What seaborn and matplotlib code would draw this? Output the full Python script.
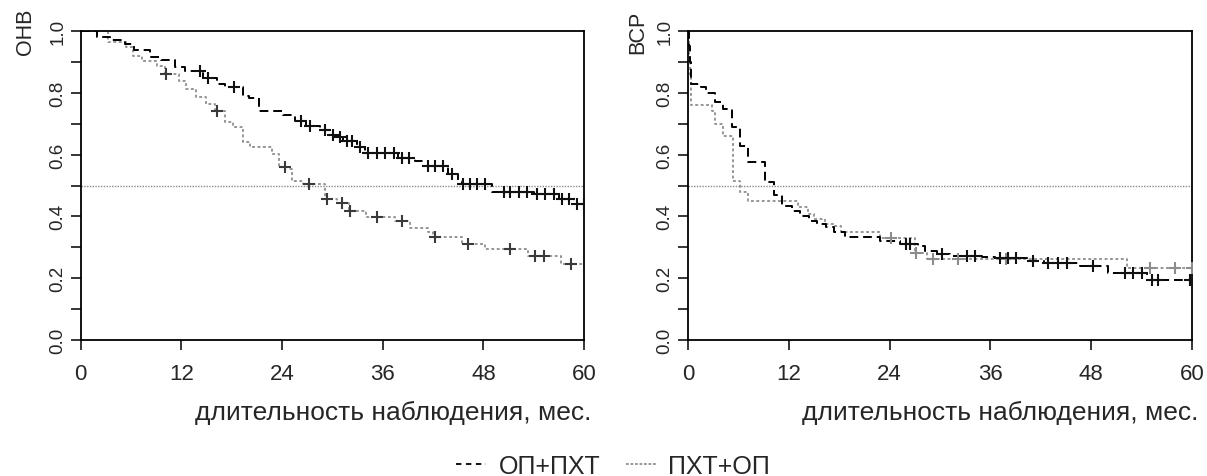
import numpy as np
import pandas as pd
import matplotlib
matplotlib.use("Agg")
import matplotlib.pyplot as plt
from matplotlib.lines import Line2D
from matplotlib.ticker import MultipleLocator
import seaborn as sns

# ---------------- data ----------------
groups = ["ОП+ПХТ", "ПХТ+ОП"]
xticks = [0, 12, 24, 36, 48, 60]
yticks = [0.0, 0.2, 0.4, 0.6, 0.8, 1.0]
xlabel = "длительность наблюдения, мес."
ylabels = ["ОНВ", "ВСР"]

# Left panel (ОНВ)
onv_a_t = [0, 1.9, 3.5, 5.3, 6.3, 8.3, 9.6, 11.2, 12.4, 14.6, 16.2, 17.2, 19.4, 20.0, 21.3, 24.1,
           25.6, 26.8, 28.5, 29.7, 30.5, 31.3, 32.9, 33.9, 37.8, 39.8, 40.8, 43.8, 45.0, 45.4,
           49.0, 54.0, 57.0, 58.8, 60]
onv_a_s = [1.0, 0.98, 0.972, 0.958, 0.94, 0.915, 0.906, 0.883, 0.871, 0.848, 0.828, 0.818, 0.79,
           0.783, 0.742, 0.728, 0.71, 0.694, 0.678, 0.665, 0.656, 0.645, 0.624, 0.605, 0.588,
           0.58, 0.564, 0.537, 0.516, 0.505, 0.48, 0.472, 0.456, 0.44, 0.44]
onv_a_cens = [14.2, 15.2, 18.3, 26.3, 27.3, 29.1, 30.1, 30.9, 31.7, 32.3, 33.3, 34.3, 35.3, 36.3,
              37.3, 38.3, 39.1, 41.4, 42.2, 43.2, 44.2, 45.6, 46.4, 47.2, 48.2, 50.4, 51.2, 52.2,
              53.2, 54.4, 55.4, 56.4, 57.4, 58.2, 59.2, 60.0]

onv_b_t = [0, 3.3, 5.4, 6.2, 7.3, 9.1, 10.0, 11.7, 12.5, 13.7, 14.9, 16.0, 17.2, 18.2, 19.3, 20.2,
           22.8, 23.6, 24.8, 25.2, 26.5, 29.1, 30.5, 32.0, 34.0, 37.5, 39.3, 41.4, 42.0, 45.5,
           48.2, 53.3, 57.3, 60]
onv_b_s = [1.0, 0.963, 0.947, 0.92, 0.904, 0.888, 0.861, 0.839, 0.812, 0.785, 0.763, 0.742,
           0.704, 0.688, 0.64, 0.624, 0.602, 0.559, 0.553, 0.516, 0.505, 0.456, 0.443, 0.418,
           0.397, 0.386, 0.364, 0.348, 0.332, 0.311, 0.294, 0.273, 0.246, 0.246]
onv_b_cens = [10.2, 16.2, 24.4, 27.2, 29.4, 31.1, 32.1, 35.3, 38.3, 42.2, 46.2, 51.2, 54.2, 55.2, 58.4]

# Right panel (ВСР)
vsr_a_t = [0, 0.1, 0.2, 0.3, 1.6, 2.2, 3.2, 4.2, 5.2, 6.2, 7.2, 9.2, 10.2, 11.2, 12.4, 13.3, 14.4,
           15.4, 16.4, 17.4, 18.7, 22.9, 25.2, 27.4, 28.2, 29.6, 31.2, 35.0, 36.6, 40.3, 42.4,
           46.7, 50.0, 54.6, 60]
vsr_a_s = [1.0, 0.95, 0.9, 0.828, 0.818, 0.80, 0.77, 0.748, 0.688, 0.629, 0.575, 0.51, 0.47,
           0.435, 0.418, 0.402, 0.386, 0.375, 0.365, 0.348, 0.332, 0.321, 0.311, 0.303, 0.289,
           0.278, 0.273, 0.27, 0.267, 0.257, 0.248, 0.238, 0.217, 0.194, 0.194]
vsr_a_cens = [26.0, 26.4, 30.2, 33.2, 34.2, 37.1, 38.1, 39.1, 41.1, 42.9, 44.1, 45.1, 48.2, 52.0,
              53.0, 54.0, 55.2, 56.0, 59.7]

vsr_b_t = [0, 0.1, 0.2, 0.3, 2.9, 3.2, 4.2, 5.3, 6.2, 7.2, 13.1, 14.3, 15.0, 16.3, 17.5, 18.2,
           22.9, 27.0, 28.4, 52.2, 60]
vsr_b_s = [1.0, 0.92, 0.85, 0.76, 0.74, 0.699, 0.661, 0.516, 0.478, 0.451, 0.43, 0.408, 0.392,
           0.375, 0.37, 0.35, 0.329, 0.281, 0.262, 0.232, 0.232]
vsr_b_cens = [24.2, 27.2, 29.2, 32.2, 37.9, 55.0, 58.0, 60.0]


def curve_df(t, s, group):
    return pd.DataFrame({"t": t, "S": s, "group": group})


def cens_df(ct, t, s, group):
    t = np.asarray(t)
    s = np.asarray(s)
    idx = np.searchsorted(t, ct, side="right") - 1
    return pd.DataFrame({"t": ct, "S": s[idx], "group": group})


panels = [
    (curve_df(onv_a_t, onv_a_s, groups[0]), curve_df(onv_b_t, onv_b_s, groups[1]),
     cens_df(onv_a_cens, onv_a_t, onv_a_s, groups[0]), cens_df(onv_b_cens, onv_b_t, onv_b_s, groups[1]),
     "#3a3a3a"),
    (curve_df(vsr_a_t, vsr_a_s, groups[0]), curve_df(vsr_b_t, vsr_b_s, groups[1]),
     cens_df(vsr_a_cens, vsr_a_t, vsr_a_s, groups[0]), cens_df(vsr_b_cens, vsr_b_t, vsr_b_s, groups[1]),
     "#8c8c8c"),
]

# ---------------- style ----------------
sns.set_style("white")
plt.rcParams["font.family"] = ["Liberation Sans", "DejaVu Sans"]
plt.rcParams["font.size"] = 14

black = "#000000"
gray = "#8f8f8f"
palette = {groups[0]: black, groups[1]: gray}
dash_map = {groups[0]: (4.5, 2.5), groups[1]: (1.6, 1.4)}

fig = plt.figure(figsize=(12.07, 4.77), dpi=100)
ax_pos = [[0.0669, 0.285, 0.417, 0.648], [0.570, 0.285, 0.4176, 0.648]]

for i, (ca, cb, cea, ceb, b_mark_col) in enumerate(panels):
    ax = fig.add_axes(ax_pos[i])
    curves = pd.concat([ca, cb], ignore_index=True)
    ax.axhline(0.5, color="#8a8a8a", lw=1.0, ls=(0, (1, 1)), zorder=1)
    for g, lw in [(groups[1], 1.3), (groups[0], 1.4)]:
        sub = curves[curves["group"] == g]
        sns.lineplot(data=sub, x="t", y="S", color=palette[g], estimator=None, sort=False,
                     drawstyle="steps-post", lw=lw, dashes=False, legend=False, ax=ax)
        ax.lines[-1].set_dashes(dash_map[g])
    sns.scatterplot(data=ceb, x="t", y="S", marker="+", s=85, color=b_mark_col,
                    linewidth=1.5, legend=False, ax=ax, zorder=4)
    sns.scatterplot(data=cea, x="t", y="S", marker="+", s=85, color="#111111",
                    linewidth=1.5, legend=False, ax=ax, zorder=5)

    ax.set_xlim(0, 60)
    ax.set_ylim(0, 1)
    ax.set_xticks(xticks)
    ax.set_xticklabels([str(v) for v in xticks])
    ax.set_yticks(yticks)
    ax.set_yticklabels([f"{v:.1f}" for v in yticks], rotation=90, va="center")
    ax.yaxis.set_minor_locator(MultipleLocator(0.1))
    ax.tick_params(axis="both", which="both", direction="out", length=7.5, width=1.1,
                   color="black", left=True, bottom=True)
    ax.tick_params(axis="x", pad=9, labelsize=16)
    ax.tick_params(axis="y", pad=3, labelsize=13.5)
    for sp in ax.spines.values():
        sp.set_visible(True)
        sp.set_color("black")
        sp.set_linewidth(1.3)
    ax.set_xlabel(xlabel, fontsize=19, va="center")
    ax.xaxis.set_label_coords(0.62, -0.233)
    ax.set_ylabel(ylabels[i], fontsize=15.5)
    ax.yaxis.set_label_coords(-0.11 if i == 0 else -0.10, 1.0)
    ax.yaxis.label.set_va("center")

handles = [Line2D([0], [0], color=black, lw=1.3, dashes=(3, 2.5)),
           Line2D([0], [0], color=gray, lw=1.3, dashes=(1.5, 1.0))]
fig.legend(handles, groups, loc="center", bbox_to_anchor=(0.508, 0.022), ncol=2, frameon=False,
           fontsize=18, handlelength=1.2, handletextpad=0.5, columnspacing=1.0)

fig.savefig("out.png", dpi=100)
